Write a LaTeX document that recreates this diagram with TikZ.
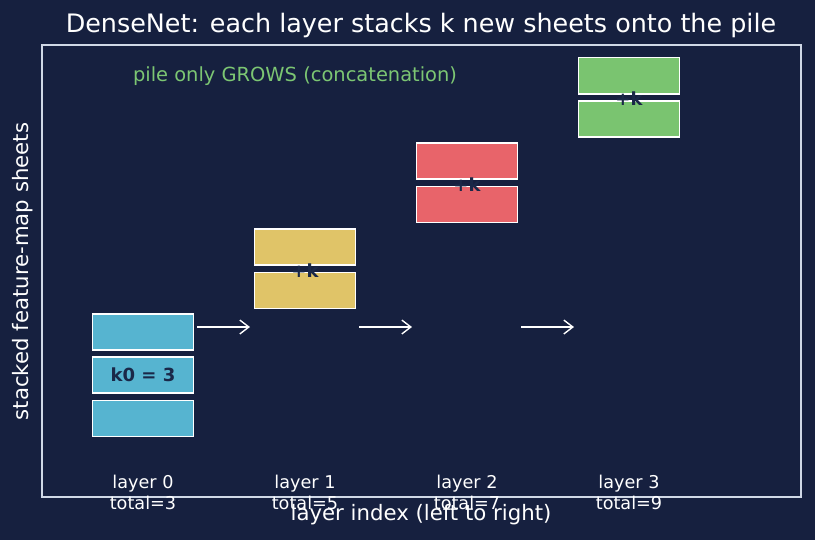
\documentclass[tikz,border=0pt]{standalone}
\usepackage{fontspec}
\setmainfont{DejaVu Sans}
\usetikzlibrary{arrows.meta, positioning}

\definecolor{bgnavy}{HTML}{16203F}
\definecolor{framegray}{HTML}{D0D8E6}
\definecolor{sheetcyan}{HTML}{56B4D0}
\definecolor{sheetyellow}{HTML}{E0C468}
\definecolor{sheetred}{HTML}{E8646A}
\definecolor{sheetgreen}{HTML}{7AC470}
\definecolor{inkdark}{HTML}{1A2848}
\definecolor{notegreen}{HTML}{7CC673}

\begin{document}
\begin{tikzpicture}[
  x=0.72pt, y=-0.72pt,
  node distance=4pt,
  sheet/.style={rectangle, minimum width=72.5pt, minimum height=26pt, inner sep=0pt,
                draw=white, line width=1.2pt},
  plus/.style={font=\bfseries\fontsize{13}{15}\selectfont, text=inkdark},
  arrow/.style={-{Straight Barb[length=6.5pt, width=10pt]}, white, line width=1pt},
  layerlbl/.style={font=\fontsize{12.7}{15.2}\selectfont, text=white, align=center},
  axislbl/.style={font=\fontsize{15.3}{18}\selectfont, text=white}
]

% ---- Canvas and frame ----
\fill[bgnavy] (0,0) rectangle (815,540);
\useasboundingbox (0,0) rectangle (815,540);
\draw[framegray, line width=1pt] (42,45) rectangle (801,497);

% ---- Layer 0: starting pile ----
\node[sheet, fill=sheetcyan] (l0a) at (143,418.5) {};
\node[sheet, fill=sheetcyan, above=of l0a, font=\bfseries\fontsize{13}{15}\selectfont, text=inkdark] (l0b) {k0 = 3};
\node[sheet, fill=sheetcyan, above=of l0b] (l0c) {};

% ---- Layer 1 ----
\node[sheet, fill=sheetyellow] (l1a) at (305,290.5) {};
\node[sheet, fill=sheetyellow, above=of l1a] (l1b) {};
\node[plus] (l1k) at (305,270.5) {+k};

% ---- Layer 2 ----
\node[sheet, fill=sheetred] (l2a) at (467,204.5) {};
\node[sheet, fill=sheetred, above=of l2a] (l2b) {};
\node[plus] (l2k) at (467,184.5) {+k};

% ---- Layer 3 ----
\node[sheet, fill=sheetgreen] (l3a) at (629,119) {};
\node[sheet, fill=sheetgreen, above=of l3a] (l3b) {};
\node[plus] (l3k) at (629,99) {+k};

% ---- Arrows between layers ----
\coordinate (a0s) at (197,327); \coordinate (a0e) at (250,327);
\coordinate (a1s) at (359,327); \coordinate (a1e) at (412,327);
\coordinate (a2s) at (521,327); \coordinate (a2e) at (574,327);
\draw[arrow] (a0s) -- (a0e);
\draw[arrow] (a1s) -- (a1e);
\draw[arrow] (a2s) -- (a2e);

% ---- Layer labels ----
\node[layerlbl] (lab0) at (143,492.5) {layer 0\\total=3};
\node[layerlbl] (lab1) at (305,492.5) {layer 1\\total=5};
\node[layerlbl] (lab2) at (467,492.5) {layer 2\\total=7};
\node[layerlbl] (lab3) at (629,492.5) {layer 3\\total=9};

% ---- Title, note and axis labels ----
\node[font=\fontsize{18.3}{22}\selectfont, text=white] (title) at (421,25)
  {DenseNet: each layer stacks k new sheets onto the pile};
\node[font=\fontsize{14}{17}\selectfont, text=notegreen] (note) at (295,76)
  {pile only GROWS (concatenation)};
\node[axislbl] (xlab) at (421,515) {layer index (left to right)};
\node[axislbl, rotate=90] (ylab) at (23,271.5) {stacked feature-map sheets};

\end{tikzpicture}
\end{document}
